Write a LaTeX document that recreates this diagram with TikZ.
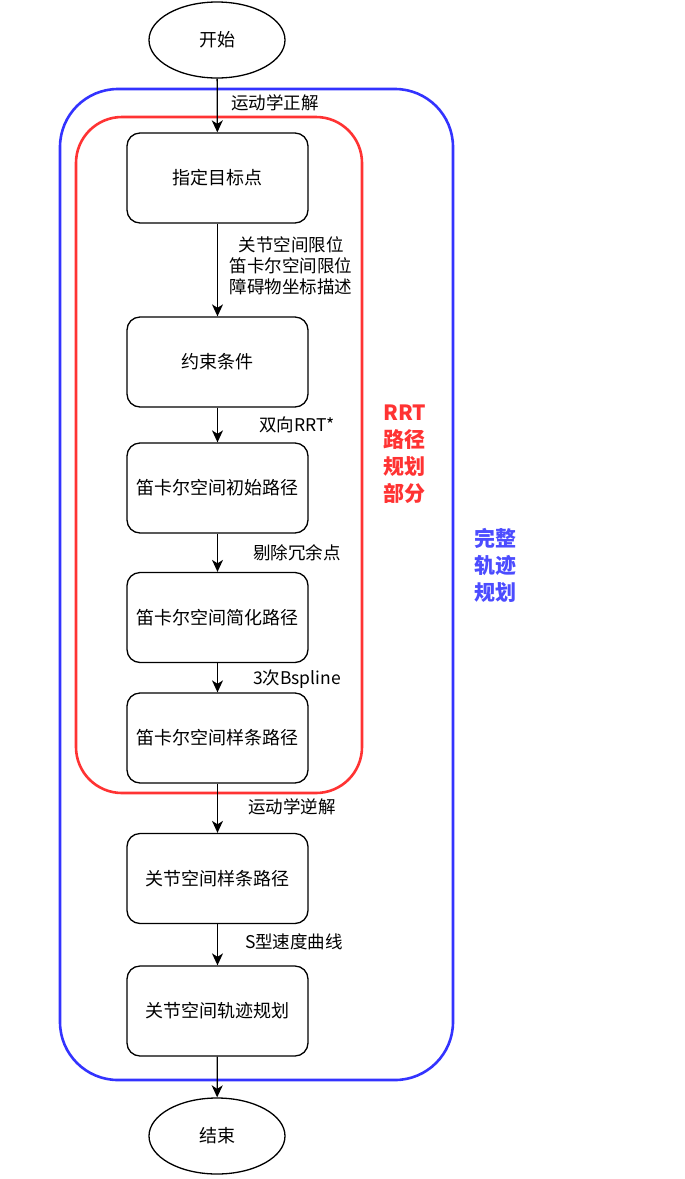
\documentclass[tikz,border=0pt]{standalone}
\usepackage{fontspec}
\setmainfont{Noto Sans CJK SC}
\usetikzlibrary{arrows.meta,shapes.geometric}
\definecolor{cred}{HTML}{FF3333}
\definecolor{cblue}{HTML}{3333FF}
\definecolor{tblue}{HTML}{4C4CFF}
\tikzset{
  stepbox/.style={draw=black,line width=1.3pt,rounded corners=13pt,minimum width=181pt,minimum height=90pt,inner sep=0pt,font=\fontsize{18pt}{21.6pt}\selectfont},
  term/.style={draw=black,line width=1.3pt,ellipse,minimum width=136pt,minimum height=76pt,inner sep=0pt,font=\fontsize{18pt}{21.6pt}\selectfont},
  flow/.style={line width=1.3pt,-{Stealth[length=12pt,width=11pt,inset=3.5pt]}},
  lbl/.style={inner sep=0pt,font=\fontsize{17.5pt}{21pt}\selectfont,align=center},
  group/.style={line width=2.6pt,rounded corners=#1},
  side/.style={inner sep=0pt,align=left,font=\bfseries\fontsize{21pt}{27pt}\selectfont,anchor=north west}
}
\begin{document}
\begin{tikzpicture}[x=1pt,y=-1pt]
\useasboundingbox (0,0) rectangle (685,1179);
% containers
\draw[group=58pt,cblue] (60,89) rectangle (453,1080);
\draw[group=46pt,cred] (76,117) rectangle (362,793);
% nodes
\node[term] (start) at (217,40) {开始};
\node[stepbox] (b1) at (217.5,178) {指定目标点};
\node[stepbox] (b2) at (217.5,362) {约束条件};
\node[stepbox] (b3) at (217.5,488) {笛卡尔空间初始路径};
\node[stepbox] (b4) at (217.5,617.5) {笛卡尔空间简化路径};
\node[stepbox] (b5) at (217.5,738) {笛卡尔空间样条路径};
\node[stepbox] (b6) at (217.5,878.5) {关节空间样条路径};
\node[stepbox] (b7) at (217.5,1011) {关节空间轨迹规划};
\node[term] (end) at (217,1136) {结束};
% connectors
\draw[flow] (start) -- (b1);
\draw[flow] (b1) -- (b2);
\draw[flow] (b2) -- (b3);
\draw[flow] (b3) -- (b4);
\draw[flow] (b4) -- (b5);
\draw[flow] (b5) -- (b6);
\draw[flow] (b6) -- (b7);
\draw[flow] (b7) -- (end);
% edge labels
\node[lbl,anchor=west] (l1) at (231,103) {运动学正解};
\node[lbl] (l2) at (291,266) {关节空间限位\\笛卡尔空间限位\\障碍物坐标描述};
\node[lbl] (l3) at (297,425) {双向RRT*};
\node[lbl] (l4) at (297,553) {剔除冗余点};
\node[lbl] (l5) at (297,679) {3次Bspline};
\node[lbl] (l6) at (292,807) {运动学逆解};
\node[lbl] (l7) at (294,942) {S型速度曲线};
% group labels
\node[side,text=cred] (t1) at (383,405) {RRT\\路径\\规划\\部分};
\node[side,text=tblue] (t2) at (474,528) {完整\\轨迹\\规划};
\end{tikzpicture}
\end{document}
